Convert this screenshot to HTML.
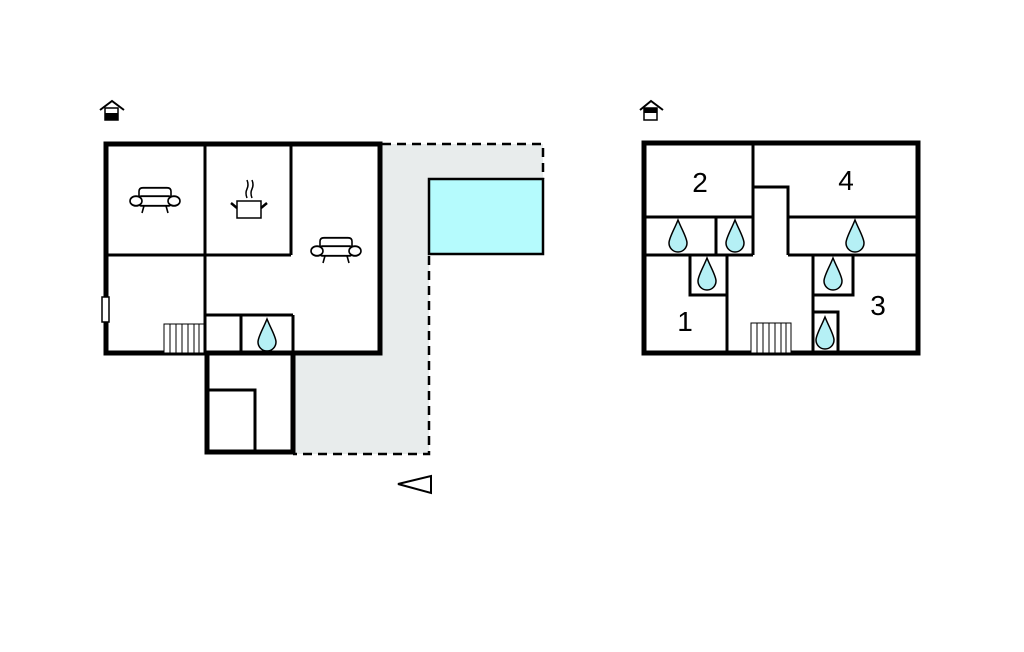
<!DOCTYPE html>
<html><head><meta charset="utf-8"><style>
html,body{margin:0;padding:0;background:#fff;}
svg{display:block;}
text{font-family:"Liberation Sans",sans-serif;font-size:28px;fill:#000;}
</style></head><body>
<svg width="1024" height="652" viewBox="0 0 1024 652" xmlns="http://www.w3.org/2000/svg">
<defs>
<g id="drop"><path d="M0,-16 C4,-6 9,2 9,7 A9,9 0 0 1 -9,7 C-9,2 -4,-6 0,-16 Z" fill="#b5f0f5" stroke="#000" stroke-width="1.5"/></g>
<g id="sofa" fill="#fff" stroke="#000" stroke-width="1.6">
<path d="M-16,-4 L-16,-8 Q-16,-11 -12,-11 L12,-11 Q16,-11 16,-8 L16,-4"/>
<rect x="-16" y="-4" width="32" height="8" rx="2"/>
<ellipse cx="-19" cy="0" rx="6" ry="4"/>
<ellipse cx="19" cy="0" rx="6" ry="4"/>
<path d="M-11,4 L-13,10 M11,4 L13,10" fill="none"/>
</g>
</defs>

<!-- terrace -->
<path d="M382,144 H543 V179 H429 V454 H293 V354 H382 Z" fill="#e8ecec"/>
<rect x="429" y="179" width="114" height="75" fill="#b5fbfd" stroke="#000" stroke-width="2.5"/>
<g fill="none" stroke="#000" stroke-width="2.5" stroke-dasharray="9,6">
<path d="M382,144 H543 V179"/>
<path d="M429,256 V454 H293"/>
</g>
<polygon points="398,484 431,476 431,493" fill="#fff" stroke="#000" stroke-width="2"/>

<!-- left plan -->
<g fill="none" stroke="#000">
<rect x="106" y="144" width="274" height="209" stroke-width="5"/>
<path d="M205,144 V354 M291,144 V255 M106,255 H291" stroke-width="3"/>
<path d="M205,315 H293 M241,315 V353 M293,315 V354" stroke-width="3"/>
<path d="M207,354 V452 H293 V354" stroke-width="5"/>
<path d="M207,390 H255 V452" stroke-width="3"/>
</g>
<rect x="102" y="297" width="7" height="25" fill="#fff" stroke="#000" stroke-width="1.5"/>
<g stroke="#000" stroke-width="1">
<rect x="164" y="324" width="40" height="29" fill="#fff"/>
<path d="M170,324 V353 M176,324 V353 M182,324 V353 M188,324 V353 M194,324 V353 M199,324 V353"/>
</g>
<use href="#drop" x="267" y="335"/>
<g transform="translate(155,201) scale(1,1.2)"><use href="#sofa"/></g>
<g transform="translate(336,251) scale(1,1.2)"><use href="#sofa"/></g>
<g stroke="#000" stroke-width="1.5" fill="none">
<rect x="237" y="201" width="24" height="17" fill="#fff"/>
<path d="M231,203 L237,208 M267,203 L261,208" stroke-width="2.5"/>
<path d="M247,198 Q245,193 247,189 Q249,185 247,180 M252,198 Q250,193 252,189 Q254,185 252,180"/>
</g>
<path d="M100,110 L112,101 L124,110" fill="none" stroke="#000" stroke-width="2"/>
<rect x="105" y="108" width="13" height="12" fill="#fff" stroke="#000" stroke-width="1.5"/>
<rect x="105" y="113" width="13" height="7" fill="#000"/>

<!-- right plan -->
<g fill="none" stroke="#000">
<rect x="644" y="143" width="274" height="210" stroke-width="5"/>
<path d="M753,143 V255 M753,187 H788 V255" stroke-width="3"/>
<path d="M644,217 H753 M788,217 H918 M644,255 H753 M788,255 H918 M716,217 V255" stroke-width="3"/>
<path d="M690,255 V295 H727 M727,255 V353" stroke-width="3"/>
<path d="M813,255 V353 M853,255 V295 H813 M813,312 H838 V353" stroke-width="3"/>
</g>
<g stroke="#000" stroke-width="1">
<rect x="751" y="323" width="40" height="30" fill="#fff"/>
<path d="M757,323 V353 M763,323 V353 M769,323 V353 M775,323 V353 M781,323 V353 M786,323 V353"/>
</g>
<use href="#drop" x="678" y="236"/>
<use href="#drop" x="735" y="236"/>
<use href="#drop" x="855" y="236"/>
<use href="#drop" x="707" y="274"/>
<use href="#drop" x="833" y="274"/>
<use href="#drop" x="825" y="333"/>
<text x="700" y="192" text-anchor="middle">2</text>
<text x="846" y="190" text-anchor="middle">4</text>
<text x="685" y="331" text-anchor="middle">1</text>
<text x="878" y="315" text-anchor="middle">3</text>
<path d="M640,110 L651,101 L663,110" fill="none" stroke="#000" stroke-width="2"/>
<rect x="644" y="108" width="13" height="12" fill="#fff" stroke="#000" stroke-width="1.5"/>
<rect x="644" y="108" width="13" height="5" fill="#000"/>
</svg>
</body></html>
